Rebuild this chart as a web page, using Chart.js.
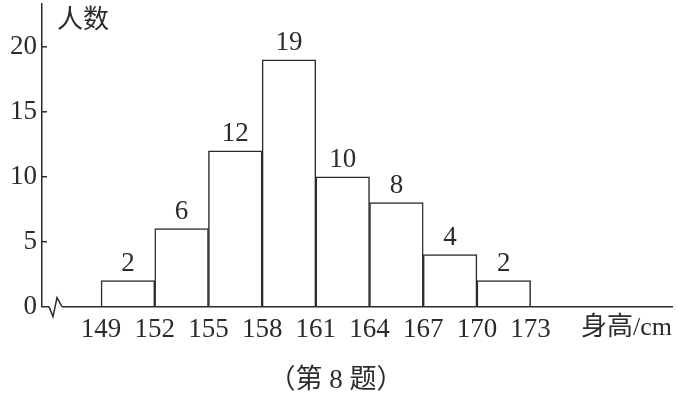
<!DOCTYPE html>
<html>
<head>
<meta charset="utf-8">
<script src="https://cdn.jsdelivr.net/npm/chart.js@4"></script>
<style>
  html, body { margin: 0; padding: 0; background: #fff; }
  #wrap { width: 678px; height: 400px; }
</style>
</head>
<body>
<div id="wrap"><canvas id="histChart"></canvas></div>
<script>
// Height groups (cm) and how many students fall in each
const binEdges = [149, 152, 155, 158, 161, 164, 167, 170, 173];
const counts = [2, 6, 12, 19, 10, 8, 4, 2];
const yTicks = [0, 5, 10, 15, 20];

const INK = '#2b2b2b';
const FONT = "'Liberation Serif', 'Noto Sans CJK SC', serif";

// one bar per group, centred between its two edges
const bars = counts.map((c, i) => ({ x: (binEdges[i] + binEdges[i + 1]) / 2, y: c }));

// Labels, inward ticks and the axis break
const decorations = {
    id: 'decorations',
    afterDatasetsDraw(chart) {
        const ctx = chart.ctx;
        const area = chart.chartArea;
        const yScale = chart.scales.y;

        ctx.save();
        ctx.fillStyle = INK;
        ctx.textAlign = 'center';
        ctx.textBaseline = 'middle';

        // count above each bar
        ctx.font = '27px ' + FONT;
        chart.getDatasetMeta(0).data.forEach((bar, i) => {
            ctx.fillText(String(counts[i]), bar.x, bar.y - 17);
        });

        // y axis name
        ctx.font = '26px ' + FONT;
        ctx.fillText('人数', area.left + 41, area.top + 17);

        // x axis name
        ctx.textAlign = 'right';
        ctx.fillText('身高/cm', area.right, area.bottom + 22);

        // tick marks pointing into the plot
        ctx.strokeStyle = INK;
        ctx.lineWidth = 1.5;
        yTicks.slice(1).forEach(v => {
            const py = yScale.getPixelForValue(v);
            ctx.beginPath();
            ctx.moveTo(area.left, py);
            ctx.lineTo(area.left + 5, py);
            ctx.stroke();
        });

        // break mark near the origin
        const by = area.bottom;
        const bx = area.left + 7;
        ctx.fillStyle = '#fff';
        ctx.fillRect(bx, by - 2, 13, 4);
        ctx.beginPath();
        ctx.moveTo(bx, by);
        ctx.lineTo(bx + 4, by + 10);
        ctx.lineTo(bx + 8, by - 9);
        ctx.lineTo(bx + 13, by);
        ctx.stroke();
        ctx.restore();
    }
};

const ctx = document.getElementById('histChart').getContext('2d');
const histChart = new Chart(ctx, {
    type: 'bar',
    data: {
        datasets: [{
            data: bars,
            backgroundColor: '#fff',
            borderColor: INK,
            borderWidth: 1.5,
            barPercentage: 1,
            categoryPercentage: 1
        }]
    },
    options: {
        responsive: true,
        maintainAspectRatio: false,
        animation: false,
        layout: { padding: { top: 4, right: 6, left: 0, bottom: 0 } },
        plugins: {
            legend: { display: false },
            tooltip: { enabled: false },
            title: {
                display: true,
                position: 'bottom',
                text: '（第 8 题）',
                color: INK,
                font: { family: FONT, size: 27, weight: 'normal' },
                padding: { top: 8, bottom: 3 }
            }
        },
        scales: {
            x: {
                type: 'linear',
                offset: false,
                min: 145.7,
                max: 180.9,
                afterBuildTicks: s => { s.ticks = binEdges.map(v => ({ value: v })); },
                afterFit: s => { s.height = 50; },
                grid: { drawOnChartArea: false, drawTicks: false },
                border: { color: INK, width: 1.5 },
                ticks: {
                    autoSkip: false,
                    maxRotation: 0,
                    padding: 7,
                    color: INK,
                    font: { family: FONT, size: 27 },
                    callback: v => String(v)
                }
            },
            y: {
                min: 0,
                max: 23.3,
                afterBuildTicks: s => { s.ticks = yTicks.map(v => ({ value: v })); },
                afterFit: s => { s.width = 42; s.paddingTop = 0; },
                grid: { drawOnChartArea: false, drawTicks: false },
                border: { color: INK, width: 1.5 },
                ticks: {
                    padding: 5,
                    color: INK,
                    font: { family: FONT, size: 27 },
                    callback: v => String(v)
                }
            }
        }
    },
    plugins: [decorations]
});
</script>
</body>
</html>
